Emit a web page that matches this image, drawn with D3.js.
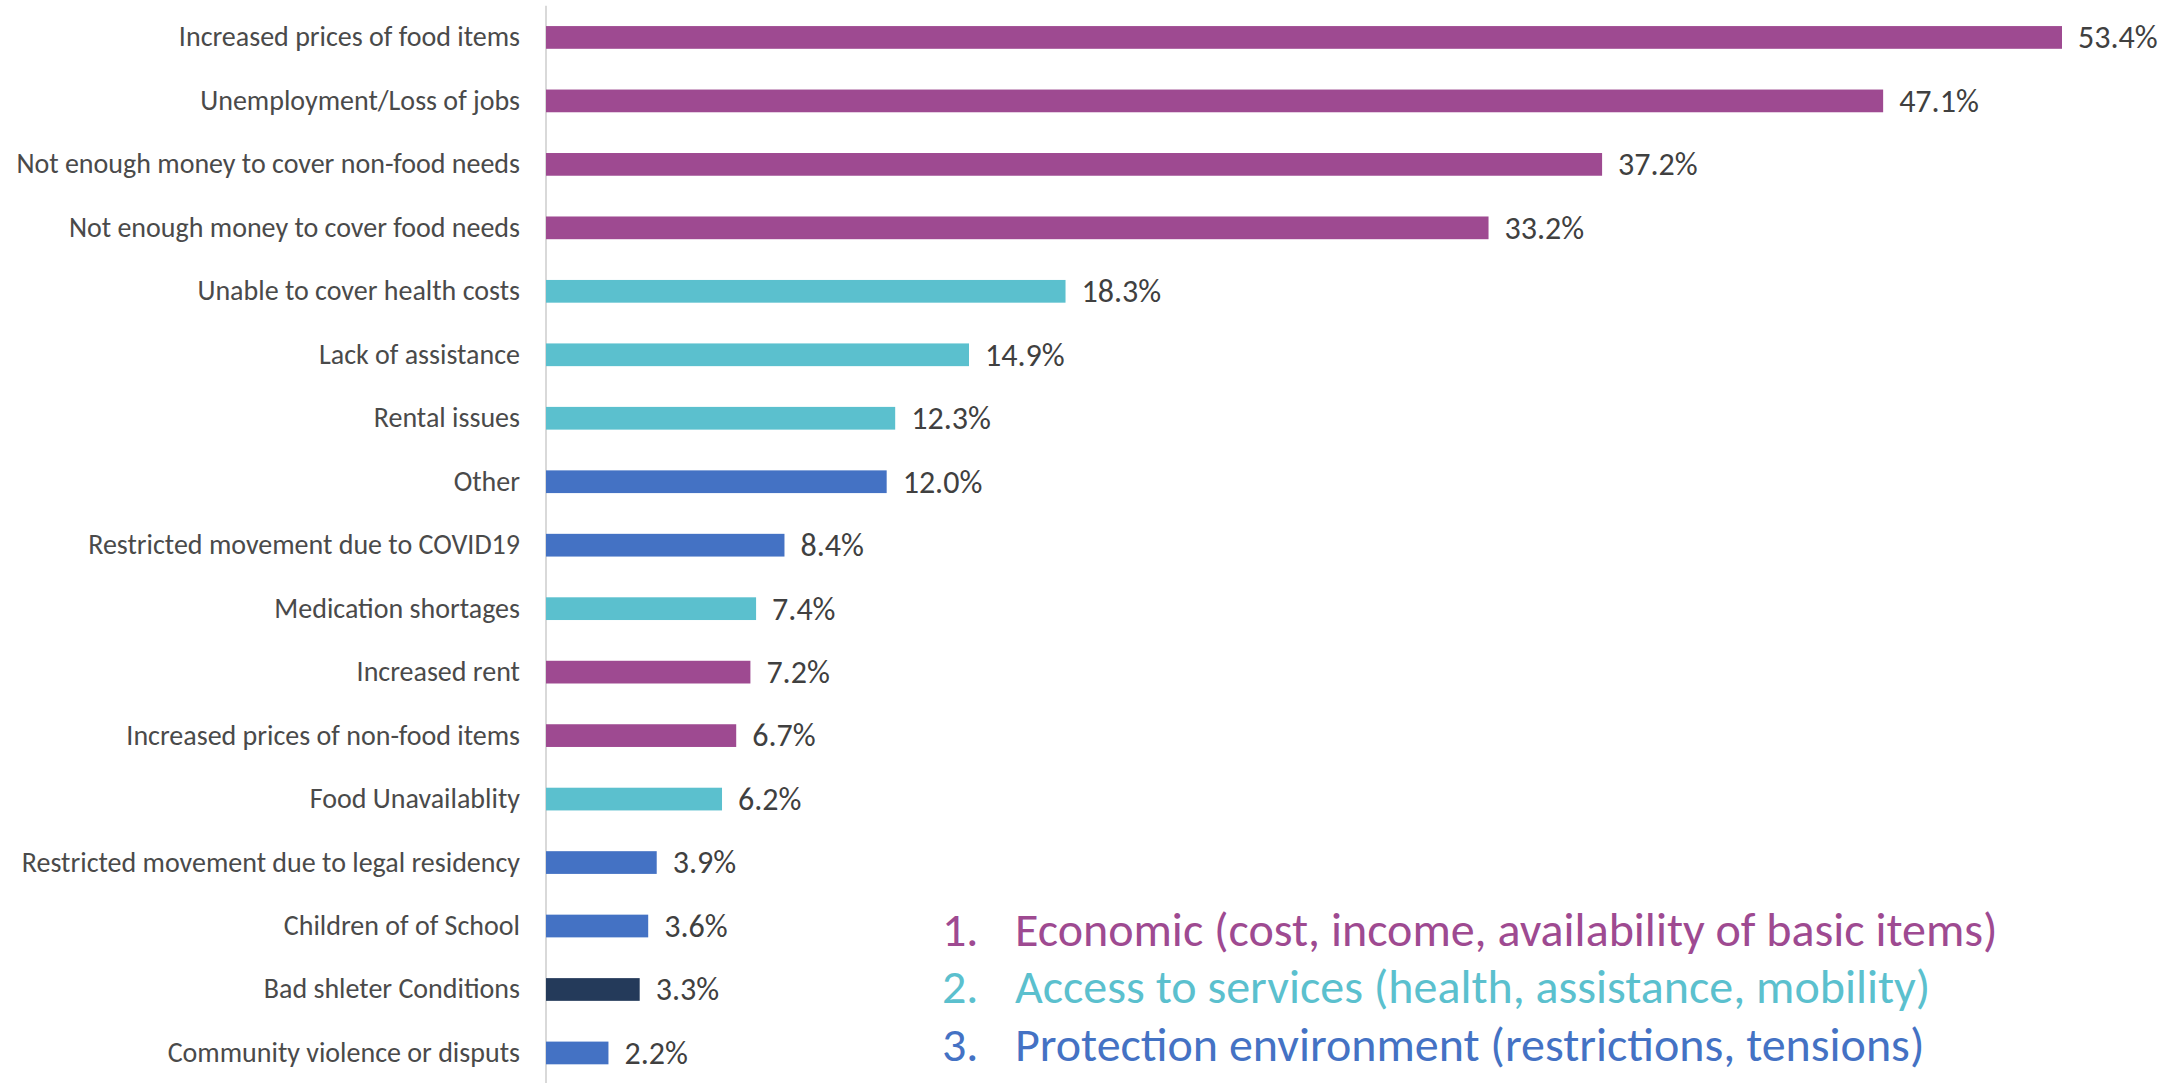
<!DOCTYPE html>
<html>
<head>
<meta charset="utf-8">
<script src="https://cdn.jsdelivr.net/npm/d3@7"></script>
<style>
  body { margin: 0; background: #fff; }
  text { font-family: Carlito, Lato, sans-serif; }
</style>
</head>
<body>
<div id="barplot"></div>
<script>
// data
var categories = [
  "Increased prices of food items",
  "Unemployment/Loss of jobs",
  "Not enough money to cover non-food needs",
  "Not enough money to cover food needs",
  "Unable to cover health costs",
  "Lack of assistance",
  "Rental issues",
  "Other",
  "Restricted movement due to COVID19",
  "Medication shortages",
  "Increased rent",
  "Increased prices of non-food items",
  "Food Unavailablity",
  "Restricted movement due to legal residency",
  "Children of of School",
  "Bad shleter Conditions",
  "Community violence or disputs"
];
var values = [53.4, 47.1, 37.2, 33.2, 18.3, 14.9, 12.3, 12.0, 8.4, 7.4, 7.2, 6.7, 6.2, 3.9, 3.6, 3.3, 2.2];
// group of each bar: 1 economic, 2 access to services, 3 protection, 0 other
var groups = [1, 1, 1, 1, 2, 2, 2, 3, 3, 2, 1, 1, 2, 3, 3, 0, 3];
var legendItems = [
  "Economic (cost, income, availability of basic items)",
  "Access to services (health, assistance, mobility)",
  "Protection environment (restrictions, tensions)"
];

var groupColors = {0: "#243a5a", 1: "#9e4a91", 2: "#5bc0ce", 3: "#4472c4"};

var data = categories.map(function(c, i) {
  return {name: c, value: values[i], group: groups[i]};
});

// set the dimensions and margins of the graph
var W = 2180, H = 1083;
var margin = {top: 5.7, right: 0, bottom: 0, left: 546};

var svg = d3.select("#barplot")
  .append("svg")
    .attr("width", W)
    .attr("height", H);

var g = svg.append("g")
    .attr("transform", "translate(" + margin.left + ",0)");

// x scale: 1% = ~28.4px
var x = d3.scaleLinear()
  .domain([0, 53.4])
  .range([0, 1516]);

// y scale
var y = d3.scaleBand()
  .domain(categories)
  .range([margin.top, margin.top + 17 * 63.47])
  .paddingInner(0.642)
  .paddingOuter(0.321);

// axis line (category axis, no ticks)
var yAxis = g.append("g")
  .call(d3.axisLeft(y).tickSize(0).tickPadding(26));
yAxis.select(".domain")
  .attr("stroke", "#d9d9d9")
  .attr("stroke-width", 2)
  .attr("d", "M0," + margin.top + "V" + H);
yAxis.selectAll("text")
  .attr("fill", "#4a4a4a")
  .style("font-size", "28px")
  .style("font-family", "Carlito, Lato, sans-serif");

// bars
g.selectAll("rect.bar")
  .data(data)
  .enter()
  .append("rect")
    .attr("class", "bar")
    .attr("x", x(0))
    .attr("y", function(d) { return y(d.name); })
    .attr("width", function(d) { return x(d.value); })
    .attr("height", y.bandwidth())
    .attr("fill", function(d) { return groupColors[d.group]; });

// value labels
g.selectAll("text.val")
  .data(data)
  .enter()
  .append("text")
    .attr("class", "val")
    .attr("x", function(d) { return x(d.value) + 16; })
    .attr("y", function(d) { return y(d.name) + y.bandwidth() / 2; })
    .attr("dy", "0.34em")
    .attr("fill", "#404040")
    .style("font-size", "32px")
    .text(function(d) { return d.value.toFixed(1) + "%"; });

// numbered legend
var legend = svg.append("g")
  .attr("transform", "translate(942,946)");
legend.selectAll("g")
  .data(legendItems)
  .enter()
  .append("g")
    .attr("transform", function(d, i) { return "translate(0," + (i * 57.3) + ")"; })
    .each(function(d, i) {
      var row = d3.select(this);
      var col = groupColors[i + 1];
      row.append("text")
        .attr("fill", col)
        .style("font-size", "48px")
        .text((i + 1) + ".");
      row.append("text")
        .attr("x", 73)
        .attr("fill", col)
        .style("font-size", "48px")
        .text(d);
    });
</script>
</body>
</html>
